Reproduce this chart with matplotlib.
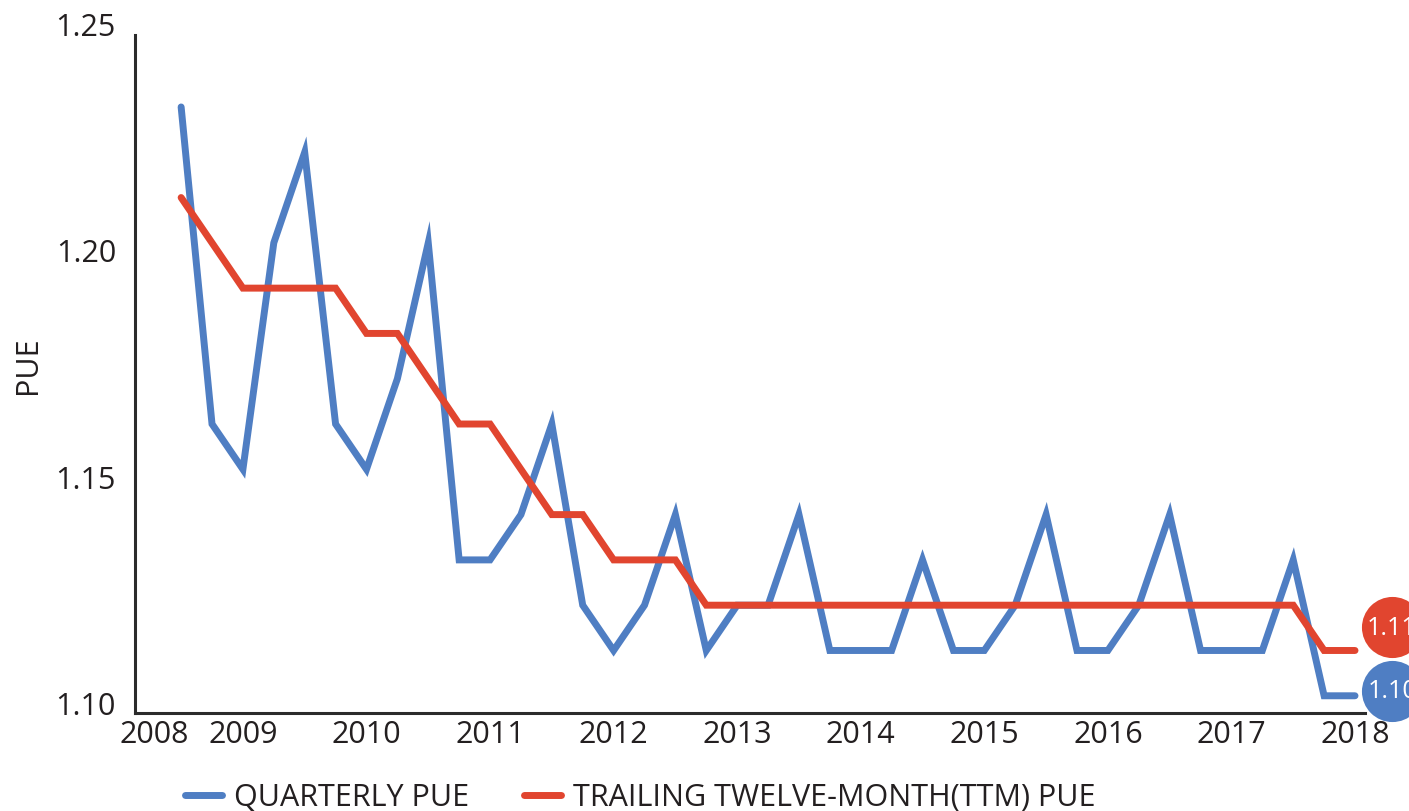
import matplotlib
matplotlib.use('Agg')
import matplotlib.pyplot as plt
import matplotlib.transforms as mtransforms
import numpy as np

# ---数据 (季度 PUE / TTM PUE)
start_year = 2008.5
quarterly_pue = [1.23, 1.16, 1.15, 1.20, 1.22, 1.16, 1.15, 1.17, 1.20, 1.13,
                 1.13, 1.14, 1.16, 1.12, 1.11, 1.12, 1.14, 1.11, 1.12, 1.12,
                 1.14, 1.11, 1.11, 1.11, 1.13, 1.11, 1.11, 1.12, 1.14, 1.11,
                 1.11, 1.12, 1.14, 1.11, 1.11, 1.11, 1.13, 1.10, 1.10]
ttm_pue = [1.21, 1.20, 1.19, 1.19, 1.19, 1.19, 1.18, 1.18, 1.17, 1.16,
           1.16, 1.15, 1.14, 1.14, 1.13, 1.13, 1.13, 1.12, 1.12, 1.12,
           1.12, 1.12, 1.12, 1.12, 1.12, 1.12, 1.12, 1.12, 1.12, 1.12,
           1.12, 1.12, 1.12, 1.12, 1.12, 1.12, 1.12, 1.11, 1.11]
years = list(range(2008, 2019))
yticks = [1.10, 1.15, 1.20, 1.25]

blue = '#4f7ec3'
red = '#e1452f'
txt = '#231f20'

plt.rcParams['font.family'] = ['Open Sans', 'DejaVu Sans']

xq = start_year + 0.25 * np.arange(len(quarterly_pue))

fig = plt.figure(figsize=(14.09, 8.12), dpi=100)
ax = fig.add_axes([0.0847, 0.1207, 0.884, 0.8579])

ax.plot(xq, quarterly_pue, color=blue, lw=5, solid_capstyle='round',
        solid_joinstyle='miter', label='QUARTERLY PUE')
ax.plot(xq, ttm_pue, color=red, lw=5, solid_capstyle='round',
        solid_joinstyle='miter', label='TRAILING TWELVE-MONTH(TTM) PUE')

ax.set_xlim(2008.0, 2018.08)
ax.set_ylim(1.0962, 1.25)
for s in ['top', 'right']:
    ax.spines[s].set_visible(False)
ax.spines['left'].set_position(('data', 2008.13))
ax.spines['left'].set_bounds(1.0962, 1.2458)
ax.spines['bottom'].set_bounds(2008.13, 2018.08)
for s in ['left', 'bottom']:
    ax.spines[s].set_linewidth(2.2)
    ax.spines[s].set_color('#2b2b2b')

ax.set_xticks(years)
ax.set_xticklabels([str(y) for y in years])
ax.set_yticks(yticks)
ax.set_yticklabels(['%.2f' % v for v in yticks])
ax.tick_params(axis='both', length=0, labelsize=22, colors=txt)
ax.tick_params(axis='y', pad=14)
ax.tick_params(axis='x', pad=4)
ax.get_xticklabels()[0].set_ha('left')
off = mtransforms.ScaledTranslation(0, -7 / 100, fig.dpi_scale_trans)
for lab in ax.get_yticklabels():
    lab.set_transform(lab.get_transform() + off)

ax.set_ylabel('PUE', fontsize=22, color=txt)
ax.yaxis.set_label_coords(-0.061, 0.5)

# 末端圆形标签
for vals, col, dy in [(ttm_pue, red, 23), (quarterly_pue, blue, 5)]:
    tr = mtransforms.offset_copy(ax.transData, fig=fig, x=37, y=dy, units='dots')
    ax.plot(xq[-1], vals[-1], 'o', ms=44, color=col, mec='none',
            transform=tr, clip_on=False)
    ax.text(xq[-1], vals[-1], '%.2f' % vals[-1], color='white', fontsize=18,
            ha='center', va='center', transform=tr, clip_on=False)

leg = ax.legend(loc='upper left', bbox_to_anchor=(0.031, -0.06), ncol=2,
                frameon=False, fontsize=22, handlelength=1.2,
                columnspacing=1.8, handletextpad=0.4)
for t in leg.get_texts():
    t.set_color(txt)

fig.savefig('out.png', dpi=100)
